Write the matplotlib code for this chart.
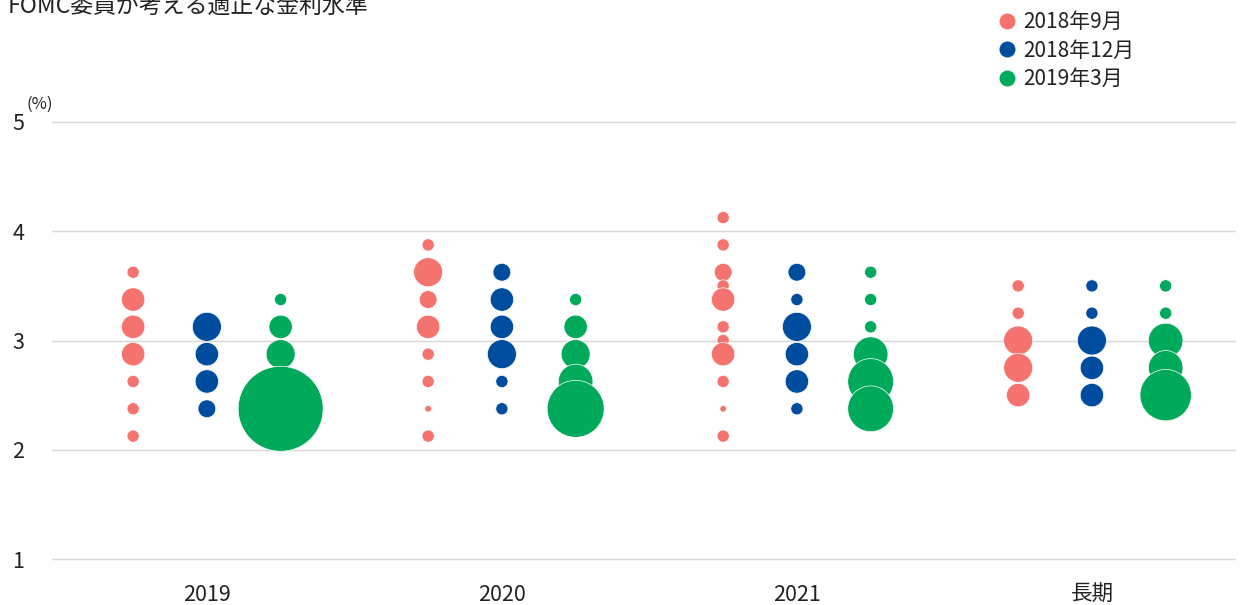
import matplotlib
matplotlib.use("Agg")
import matplotlib.pyplot as plt
from matplotlib.lines import Line2D

plt.rcParams['font.family'] = ['Noto Sans CJK JP', 'DejaVu Sans']

# Données : taux projetés (%) et nombre de membres par point
categories = ["2019", "2020", "2021", "長期"]
releases = ["2018年9月", "2018年12月", "2019年3月"]

sep2018_rates = [
    [3.625, 3.375, 3.125, 2.875, 2.625, 2.375, 2.125],
    [3.875, 3.625, 3.375, 3.125, 2.875, 2.625, 2.375, 2.125],
    [4.125, 3.875, 3.625, 3.5, 3.375, 3.125, 3.0, 2.875, 2.625, 2.375, 2.125],
    [3.5, 3.25, 3.0, 2.75, 2.5],
]
sep2018_counts = [
    [2, 4, 4, 4, 2, 2, 2],
    [2, 5, 3, 4, 2, 2, 1, 2],
    [2, 2, 3, 2, 4, 2, 2, 4, 2, 1, 2],
    [2, 2, 5, 5, 4],
]

dec2018_rates = [
    [3.125, 2.875, 2.625, 2.375],
    [3.625, 3.375, 3.125, 2.875, 2.625, 2.375],
    [3.625, 3.375, 3.125, 2.875, 2.625, 2.375],
    [3.5, 3.25, 3.0, 2.75, 2.5],
]
dec2018_counts = [
    [5, 4, 4, 3],
    [3, 4, 4, 5, 2, 2],
    [3, 2, 5, 4, 4, 2],
    [2, 2, 5, 4, 4],
]

mar2019_rates = [
    [3.375, 3.125, 2.875, 2.375],
    [3.375, 3.125, 2.875, 2.625, 2.375],
    [3.625, 3.375, 3.125, 2.875, 2.625, 2.375],
    [3.5, 3.25, 3.0, 2.75, 2.5],
]
mar2019_counts = [
    [2, 4, 5, 15],
    [2, 4, 5, 6, 10],
    [2, 2, 2, 6, 8, 8],
    [2, 2, 6, 6, 9],
]

COLORS = ["#F4736E", "#004DA0", "#00AA5A"]
OFFSETS = [-0.25, 0.0, 0.25]
DPI = 100


def marker_area(count):
    """rayon (px) linéaire avec le nombre de membres -> aire scatter en pt^2"""
    r_px = 2.8 * count + 0.5
    return (2 * r_px * 72 / DPI) ** 2


fig = plt.figure(figsize=(12.4, 6.05), dpi=DPI)
ax = fig.add_axes([52 / 1240, 46 / 605, (1235 - 52) / 1240, 437 / 605])

all_rates = [sep2018_rates, dec2018_rates, mar2019_rates]
all_counts = [sep2018_counts, dec2018_counts, mar2019_counts]

for k, (rates, counts) in enumerate(zip(all_rates, all_counts)):
    for i in range(len(categories)):
        xs = [i + OFFSETS[k]] * len(rates[i])
        sizes = [marker_area(c) for c in counts[i]]
        ax.scatter(xs, rates[i], s=sizes, color=COLORS[k], edgecolors="white",
                   linewidths=0.5, zorder=3)

for y in [1, 2, 3, 4, 5]:
    ax.axhline(y, color="#d6d6d6", lw=1, zorder=0, clip_on=False)

ax.set_xlim(-0.525, 3.485)
ax.set_ylim(1, 5)
ax.set_yticks([1, 2, 3, 4, 5])
ax.set_xticks(range(len(categories)))
ax.set_xticklabels(categories)
ax.tick_params(axis="y", length=0, pad=20, labelsize=15.5, labelcolor="#222222")
ax.tick_params(axis="x", length=0, pad=18, labelsize=15.5, labelcolor="#222222")
for s in ax.spines.values():
    s.set_visible(False)

fig.text(27 / 1240, 1 - 104 / 605, "(%)", fontsize=12, va="center", ha="left", color="#222222")
fig.text(8 / 1240, 1 - 13 / 605, "FOMC委員が考える適正な金利水準", fontsize=16.5,
         va="baseline", ha="left", color="#222222")

handles = [Line2D([0], [0], marker="o", linestyle="none", markersize=11.5,
                  markerfacecolor=c, markeredgecolor="none") for c in COLORS]
fig.legend(handles, releases, loc="upper left", bbox_to_anchor=(985 / 1240, 1 - 3 / 605),
           frameon=False, fontsize=15, handletextpad=0.15, labelspacing=0.3,
           borderaxespad=0, handlelength=1.3, labelcolor="#222222")

fig.savefig("out.png", dpi=DPI)
